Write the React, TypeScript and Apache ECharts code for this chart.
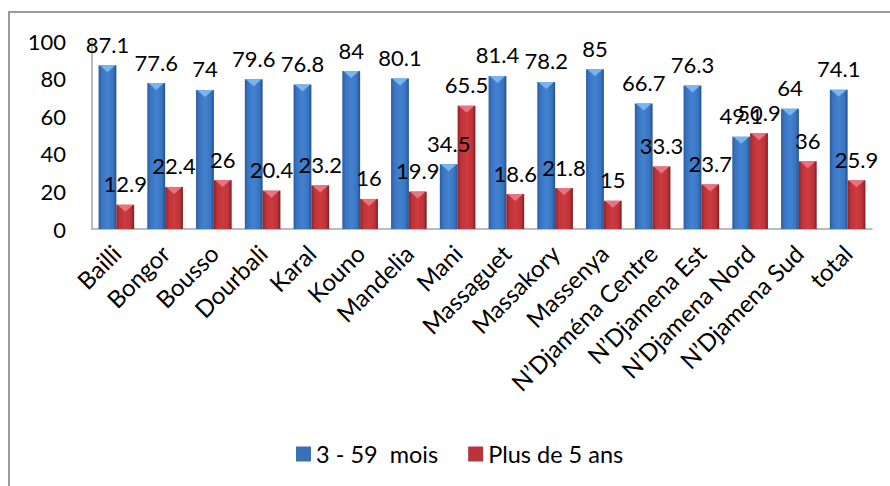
import React, { useEffect, useRef } from "react";
import * as echarts from "echarts";

const categories = [
  "Bailli", "Bongor", "Bousso", "Dourbali", "Karal", "Kouno", "Mandelia", "Mani",
  "Massaguet", "Massakory", "Massenya", "N\u2019Djaména Centre", "N\u2019Djamena Est",
  "N\u2019Djamena Nord", "N\u2019Djamena Sud", "total",
];
const seriesNames = ["3 - 59  mois", "Plus de 5 ans"];
const kids = [87.1, 77.6, 74, 79.6, 76.8, 84, 80.1, 34.5, 81.4, 78.2, 85, 66.7, 76.3, 49.1, 64, 74.1];
const adults = [12.9, 22.4, 26, 20.4, 23.2, 16, 19.9, 65.5, 18.6, 21.8, 15, 33.3, 23.7, 50.9, 36, 25.9];

const FONT = "Lato, 'Open Sans', sans-serif";
const CAT_GAP = 0.27;

function grad(edgeL: string, mid: string, light: string, edgeR: string) {
  return new echarts.graphic.LinearGradient(0, 0, 1, 0, [
    { offset: 0, color: edgeL },
    { offset: 0.18, color: mid },
    { offset: 0.5, color: light },
    { offset: 0.82, color: mid },
    { offset: 1, color: edgeR },
  ]);
}

function bevel(values: number[], side: number, color: string) {
  return {
    type: "custom",
    silent: true,
    z: 5,
    data: values.map((v, i) => [i, v]),
    renderItem: (_p: any, api: any) => {
      const idx = api.value(0);
      const v = api.value(1);
      const pt = api.coord([idx, v]);
      const cw = api.size([1, 0])[0];
      const bw = (cw * (1 - CAT_GAP)) / 2;
      const x0 = side === 0 ? pt[0] - bw : pt[0];
      const x1 = x0 + bw;
      const xc = (x0 + x1) / 2;
      return {
        type: "polygon",
        shape: { points: [[x0 + 1, pt[1]], [x1 - 1, pt[1]], [xc, pt[1] + 7]] },
        style: { fill: color },
      };
    },
  };
}

export default function App() {
  const ref = useRef<HTMLDivElement>(null);
  useEffect(() => {
    document.body.style.margin = "0";
    const chart = echarts.init(ref.current!, null, { renderer: "svg" });
    const blue = grad("#2a5b9e", "#3a74c2", "#4282d0", "#22508c");
    const red = grad("#8c2326", "#bf3338", "#cc3b40", "#7c1d20");
    const label = {
      show: true,
      position: "top",
      distance: 10,
      fontFamily: FONT,
      fontSize: 22,
      color: "#000",
    };
    chart.setOption({
      animation: false,
      textStyle: { fontFamily: FONT },
      graphic: [
        {
          type: "rect",
          shape: { x: 9, y: 12, width: 900, height: 500 },
          style: { fill: "none", stroke: "#9a9a9a", lineWidth: 2 },
          silent: true,
        },
      ],
      legend: {
        left: 291,
        top: 437,
        itemWidth: 15,
        itemHeight: 15,
        itemGap: 30,
        icon: "rect",
        textStyle: { fontFamily: FONT, fontSize: 23.5, color: "#000" },
        data: [
          { name: seriesNames[0], itemStyle: { color: "#3a70b8" } },
          { name: seriesNames[1], itemStyle: { color: "#b8343a" } },
        ],
      },
      grid: { left: 92, right: 18, top: 41, bottom: 257, containLabel: false },
      xAxis: {
        type: "category",
        data: categories,
        axisLine: { show: true, lineStyle: { color: "#a6a6a6", width: 1.5 } },
        axisTick: { show: false },
        axisLabel: {
          interval: 0,
          rotate: 45,
          margin: 20,
          fontFamily: FONT,
          fontSize: 24,
          color: "#000",
        },
      },
      yAxis: {
        type: "value",
        min: 0,
        max: 100,
        interval: 20,
        axisLine: { show: true, lineStyle: { color: "#a6a6a6", width: 1.5 } },
        axisTick: { show: false },
        splitLine: { show: false },
        axisLabel: { margin: 26, fontFamily: FONT, fontSize: 22, color: "#000" },
      },
      series: [
        {
          name: seriesNames[0],
          type: "bar",
          data: kids,
          barGap: "0%",
          barCategoryGap: CAT_GAP * 100 + "%",
          itemStyle: { color: blue },
          label,
        },
        {
          name: seriesNames[1],
          type: "bar",
          data: adults,
          barGap: "0%",
          barCategoryGap: CAT_GAP * 100 + "%",
          itemStyle: { color: red },
          label,
        },
        bevel(kids, 0, "#79b4ee"),
        bevel(adults, 1, "#e87480"),
      ],
    });
    return () => chart.dispose();
  }, []);
  return <div ref={ref} style={{ width: 890, height: 486 }} />;
}
